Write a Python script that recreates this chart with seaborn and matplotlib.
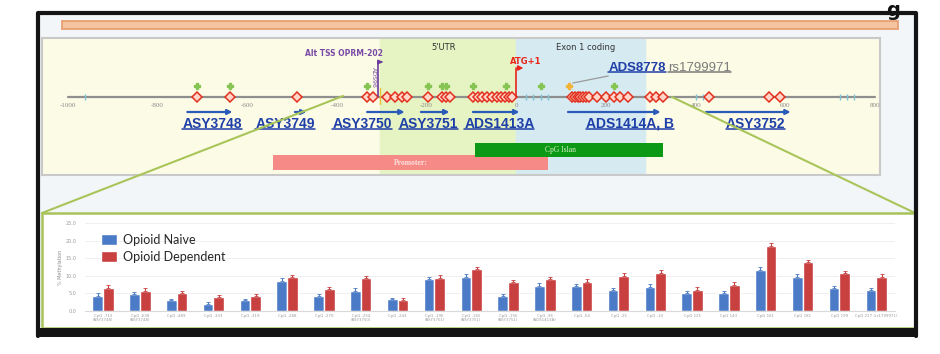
import numpy as np
import pandas as pd
import matplotlib
matplotlib.use('Agg')
import matplotlib.pyplot as plt
from matplotlib.patches import Rectangle
import seaborn as sns

# ---- genomic map data (bp relative to ATG) ----
axis_ticks = [-1000, -800, -600, -400, -200, 0, 200, 400, 600, 800]
cpg_sites = [-712, -638, -489, -333, -319, -288, -270, -254, -243, -196, -165, -156, -147,
             -96, -85, -76, -65, -54, -43, -34, -25, -16, -10,
             125, 131, 137, 143, 149, 155, 161, 181, 199, 217, 232, 250,
             299, 312, 328, 429, 563, 589]
snp_sites = [-712, -638, -333, -196, -165, -156, -96, -22, 54, 217]
rs_site = 118
other_sites = [-962, 22, 38, 54, 70, 400, 416, 722, 738, 754]
amplicons = ['ASY3748', 'ASY3749', 'ASY3750', 'ASY3751', 'ADS1413A', 'ADS1414A, B', 'ASY3752']
amp_start = [-740, -500, -339, -219, -103, 109, 417]
amp_end = [-627, -462, -243, -143, 13, 328, 618]
amp_label_pos = [-679, -516, -344, -196, -38, 254, 533]
utr = (-303, 0)
exon = (0, 288)
promoter = (-542, 71)
cpg_island = (-92, 328)
alt_tss = -309

# ---- methylation data ----
sites = ['CpG -712\n(ASY3748)', 'CpG -638\n(ASY3748)', 'CpG -489', 'CpG -333', 'CpG -319',
         'CpG -288', 'CpG -270', 'CpG -254\n(ASY3750)', 'CpG -243', 'CpG -196\n(ASY3751)',
         'CpG -165\n(ASY3751)', 'CpG -156\n(ASY3751)', 'CpG -96\n(ADS1413A)', 'CpG -54',
         'CpG -25', 'CpG -10', 'CpG 125', 'CpG 143', 'CpG 161', 'CpG 181', 'CpG 199',
         'CpG 217 (rs1799971)']
naive = [4.4, 4.8, 3.0, 2.0, 3.0, 8.6, 4.3, 5.7, 3.3, 9.1, 9.7,
         4.2, 7.2, 7.1, 5.9, 6.9, 5.2, 5.2, 11.6, 9.8, 6.4, 5.9]
dependent = [6.6, 5.7, 5.2, 4.0, 4.2, 9.6, 6.2, 9.3, 3.2, 9.4, 11.8,
             8.2, 9.1, 8.3, 10.0, 10.8, 6.1, 7.4, 18.4, 13.8, 10.7, 9.7]
naive_err = [0.6, 0.6, 0.5, 0.5, 0.5, 0.7, 0.6, 0.7, 0.5, 0.7, 0.7,
             0.6, 0.7, 0.6, 0.6, 0.7, 0.6, 0.6, 0.8, 0.7, 0.6, 0.6]
dependent_err = [0.7, 0.7, 0.6, 0.6, 0.6, 0.7, 0.7, 0.7, 0.6, 0.7, 0.8,
                 0.7, 0.7, 0.7, 0.7, 0.8, 0.6, 0.7, 0.9, 0.8, 0.7, 0.7]
groups = ['Opioid Naive', 'Opioid Dependent']
yticks = [0, 5, 10, 15, 20, 25]

W, H = 940, 354
BLUE, RED = '#4b7bc6', '#c8403f'
NAVY = '#1f3fa8'


def box(l, t, r, b):
    return [l / W, 1 - b / H, (r - l) / W, (b - t) / H]


sns.set_style('white')
fig = plt.figure(figsize=(9.4, 3.54), dpi=100)

# background / slide in pixel coords
bg = fig.add_axes([0, 0, 1, 1], zorder=0)
bg.set_xlim(0, W)
bg.set_ylim(H, 0)
bg.axis('off')
bg.add_patch(Rectangle((38, 13), 878, 322, fc='#f3f6f8', ec='none'))
bg.add_patch(Rectangle((62, 21), 836, 8, fc='#f5c4a0', ec='#e79a68', lw=1.2))
bg.add_patch(Rectangle((42, 213), 873, 115, fc='white', ec='#a7c35a', lw=1.8))
bg.text(893, 1, 'g', fontsize=14, fontweight='bold', ha='center', va='top',
        color='#111111')

# ---- genomic panel ----
px_per_bp = 807 / 1800
gax = fig.add_axes(box(42, 38, 880, 175), zorder=1)
gax.set_xlim(-1000 - 26 / px_per_bp, 800 + 5 / px_per_bp)
gax.set_ylim(175, 38)
gax.set_facecolor('#fbfbe6')
for s in gax.spines.values():
    s.set_color('#c9c9c9')
    s.set_linewidth(1.5)
gax.set_xticks([])
gax.set_yticks([])
gax.axvspan(*utr, color='#e6f3c3', zorder=0)
gax.axvspan(*exon, color='#d6eaf1', zorder=0)
gax.text(sum(utr) / 2 - 10, 47, "5'UTR", fontsize=6, color='#333333', ha='center', va='center')
gax.text(sum(exon) / 2 + 10, 47, 'Exon 1 coding', fontsize=6, color='#333333',
         ha='center', va='center')

# position axis
gax.plot([-1000, 800], [97, 97], color='#8f8f8f', lw=1.6, zorder=2)
for t in axis_ticks:
    gax.text(t, 106, str(t), fontsize=5, color='#8a8a8a', ha='center', va='center',
             family='Liberation Serif')
gax.plot(other_sites, [97] * len(other_sites), ls='none', marker='|', ms=4,
         color='#7fc4d4', mew=1, zorder=3)
gax.plot(snp_sites, [86] * len(snp_sites), ls='none', marker='P', ms=4.5,
         color='#86c553', zorder=3)
gax.plot([rs_site], [86], ls='none', marker='P', ms=4.5, color='#f0b43a', zorder=3)
gax.plot(cpg_sites, [97] * len(cpg_sites), ls='none', marker='D', ms=5,
         mfc='#ffd6c8', mec='#e2301f', mew=1.1, zorder=4)
gax.plot([alt_tss + 5, alt_tss + 5], [88, 104], color='#e8c233', lw=1, zorder=3)

# alt TSS and ATG markers
gax.plot([alt_tss, alt_tss], [96, 62], color='#6a3d9a', lw=1.2, zorder=5)
gax.annotate('', xy=(alt_tss + 18, 62), xytext=(alt_tss - 1, 62),
             arrowprops=dict(arrowstyle='-|>', color='#6a3d9a', lw=1.2, mutation_scale=6))
gax.text(alt_tss - 75, 53, 'Alt TSS OPRM-202', fontsize=5.5, color='#7b4aa6',
         ha='center', va='center', fontweight='bold')
gax.text(alt_tss - 10, 77, 'ADS96', fontsize=4.5, color='#7b4aa6', rotation=-90,
         ha='center', va='center')
gax.plot([0, 0], [97, 68], color='#e8261b', lw=1.2, zorder=5)
gax.annotate('', xy=(22, 68), xytext=(-1, 68),
             arrowprops=dict(arrowstyle='-|>', color='#e8261b', lw=1.2, mutation_scale=7))
gax.text(20, 61, 'ATG+1', fontsize=6, color='#e8261b', ha='center', va='center',
         fontweight='bold')

# amplicons
for s, e in zip(amp_start, amp_end):
    gax.annotate('', xy=(e, 112), xytext=(s, 112),
                 arrowprops=dict(arrowstyle='-|>', color='#2a5bb8', lw=1.6, mutation_scale=7))
labels = []
for name, p in zip(amplicons, amp_label_pos):
    labels.append(gax.text(p, 124, name, fontsize=10, color=NAVY, fontweight='bold',
                           ha='center', va='center', family='Liberation Sans'))
lab1 = gax.text(205, 68, 'ADS8778', fontsize=9.5, color=NAVY, fontweight='bold',
                ha='left', va='center', family='Liberation Sans')
lab2 = gax.text(338, 68, 'rs1799971', fontsize=9.5, color='#7a7a7a',
                ha='left', va='center', family='Liberation Sans')
gax.plot([rs_site + 8, 205], [83, 76], color='#9a9a9a', lw=0.9)

# regulatory bars
gax.add_patch(Rectangle((cpg_island[0], 143), cpg_island[1] - cpg_island[0], 14,
                        fc='#0c9a16', ec='none', zorder=2))
gax.text(sum(cpg_island) / 2 - 20, 150, 'CpG Islan', fontsize=5.5, color='#d8f0c8',
         ha='center', va='center', family='Liberation Serif', zorder=3)
gax.add_patch(Rectangle((promoter[0], 155), promoter[1] - promoter[0], 15,
                        fc='#f58a86', ec='none', zorder=1))
gax.text(sum(promoter) / 2, 163, 'Promoter:', fontsize=5.5, color='#fde0dc',
         ha='center', va='center', family='Liberation Serif', fontweight='bold', zorder=3)

# underline the linked labels
fig.canvas.draw()
inv = gax.transData.inverted()
rend = fig.canvas.get_renderer()
for t in labels + [lab1, lab2]:
    bb = t.get_window_extent(rend)
    (x0, y0), (x1, _) = inv.transform([[bb.x0, bb.y0], [bb.x1, bb.y1]])
    gax.plot([x0, x1], [y0 - 1.5, y0 - 1.5], color=t.get_color(), lw=1.1)

# ---- methylation bar chart ----
df = pd.DataFrame({
    'site': sites * 2,
    'group': [groups[0]] * len(sites) + [groups[1]] * len(sites),
    'value': naive + dependent,
})
bax = fig.add_axes(box(84.6, 223, 894.6, 311), zorder=2)
bax.patch.set_alpha(0)
sns.barplot(data=df, x='site', y='value', hue='group', palette=[BLUE, RED],
            width=0.58, errorbar=None, saturation=1, ax=bax)
for cont, errs, col in zip(bax.containers, [naive_err, dependent_err], [BLUE, RED]):
    for bar, e in zip(cont, errs):
        bax.errorbar(bar.get_x() + bar.get_width() / 2, bar.get_height(),
                     yerr=[[0], [e]], color=col, lw=0.8, capsize=1.2, capthick=0.6)
bax.set_xlim(-0.5, len(sites) - 0.5)
bax.set_ylim(0, 25)
bax.set_yticks(yticks)
bax.set_yticklabels([f'{v:.1f}' for v in yticks], fontsize=3.5, color='#9a9a9a')
bax.tick_params(axis='x', labelsize=2.8, labelcolor='#9a9a9a', length=0, pad=2)
bax.tick_params(axis='y', length=0, pad=6)
bax.grid(axis='y', color='#ededed', lw=0.6)
bax.set_axisbelow(True)
bax.set_xlabel('')
bax.set_ylabel('% Methylation', fontsize=3.5, color='#8a8a8a', labelpad=2)
for s in bax.spines.values():
    s.set_visible(False)
bax.spines['bottom'].set_visible(True)
bax.spines['bottom'].set_color('#d9d9d9')
bax.legend(loc='upper left', bbox_to_anchor=(0.014, 0.93), frameon=False,
           prop={'family': 'Lato', 'size': 9}, handlelength=1.3, handleheight=0.95,
           handletextpad=0.45, labelspacing=0.4, borderaxespad=0)

# ---- foreground: zoom connector lines and photo frame ----
fg = fig.add_axes([0, 0, 1, 1], zorder=5)
fg.set_xlim(0, W)
fg.set_ylim(H, 0)
fg.axis('off')
fg.patch.set_alpha(0)
fg.plot([343, 42], [96, 213], color='#a9c55a', lw=1.5)
fg.plot([672, 915], [97, 213], color='#a9c55a', lw=1.5)
fg.plot([38, 38, 916, 916], [336, 13, 13, 336], color='#141414', lw=3)
fg.add_patch(Rectangle((36, 328), 882, 9, fc='#141414', ec='none'))

fig.savefig('out.png', dpi=100)
